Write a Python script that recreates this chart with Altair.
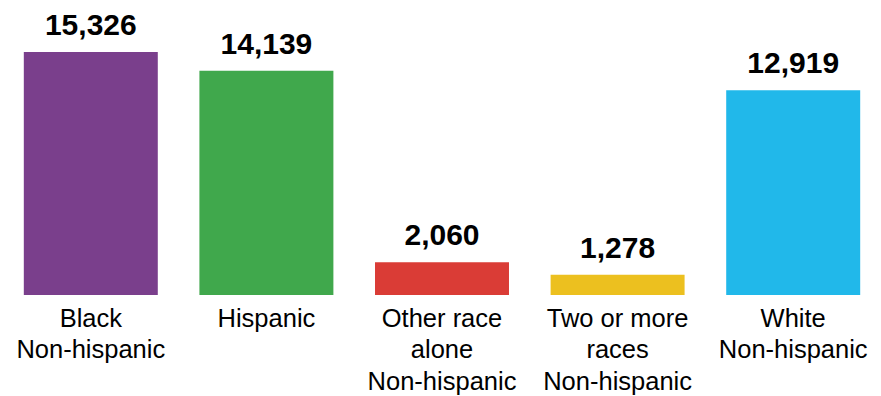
import altair as alt
import pandas as pd

categories = [
    "Black\nNon-hispanic",
    "Hispanic",
    "Other race\nalone\nNon-hispanic",
    "Two or more\nraces\nNon-hispanic",
    "White\nNon-hispanic",
]
values = [15326, 14139, 2060, 1278, 12919]
colors = ["#7A3F8C", "#40A84C", "#DA3C36", "#ECC01F", "#21B8EA"]

df = pd.DataFrame({"group": categories, "value": values})

x = alt.X(
    "group:N",
    sort=None,
    scale=alt.Scale(paddingInner=0.237, paddingOuter=0.1185),
    axis=alt.Axis(
        title=None,
        labelAngle=0,
        domain=False,
        ticks=False,
        grid=False,
        labelPadding=11,
        labelFont="Liberation Sans",
        labelFontSize=25.5,
        labelColor="#000000",
        labelLineHeight=31.5,
        labelBaseline="top",
        labelExpr="split(datum.label, '\\n')",
    ),
)
y = alt.Y(
    "value:Q",
    scale=alt.Scale(domain=[0, 15326], nice=False),
    axis=None,
)

bars = alt.Chart(df).mark_bar().encode(
    x=x,
    y=y,
    color=alt.Color("group:N", sort=None, scale=alt.Scale(domain=categories, range=colors), legend=None),
)

text = alt.Chart(df).mark_text(
    font="Liberation Sans",
    fontSize=30,
    fontWeight="bold",
    dy=-17,
    baseline="alphabetic",
    color="#000000",
).encode(
    x=alt.X("group:N", sort=None),
    y=alt.Y("value:Q", axis=None),
    text=alt.Text("value:Q", format=","),
)

chart = (
    alt.layer(bars, text)
    .properties(
        width=878,
        height=243,
        padding={"left": 3, "top": 52, "right": 0, "bottom": 101},
        autosize=alt.AutoSizeParams(type="none"),
        view=alt.ViewBackground(stroke="transparent", strokeOpacity=0, strokeWidth=0),
    )
    .configure_view(stroke="transparent", strokeOpacity=0, strokeWidth=0)
    .configure_axis(grid=False)
    .configure(background="#ffffff")
)

chart.save("out.html", embed_options={"renderer": "svg", "actions": False})
